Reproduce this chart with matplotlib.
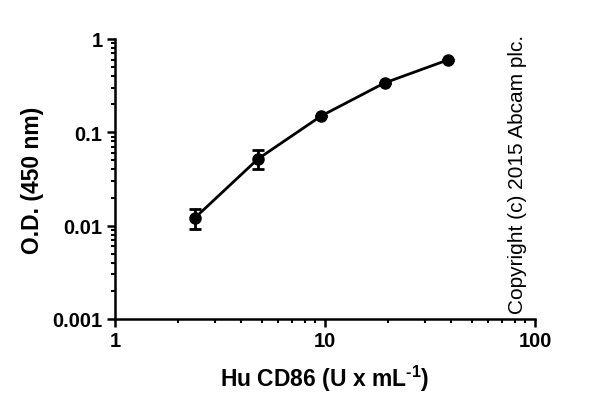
import numpy as np
import matplotlib
matplotlib.use("Agg")
import matplotlib.pyplot as plt
from matplotlib.ticker import LogLocator, NullFormatter

# Standard curve data
conc = [2.4, 4.8, 9.6, 19.2, 38.4]
od = [0.0121, 0.052, 0.150, 0.338, 0.596]
od_err = [0.0029, 0.012, 0.0, 0.0, 0.0]

xticks = [1, 10, 100]
xtick_labels = ["1", "10", "100"]
yticks = [0.001, 0.01, 0.1, 1]
ytick_labels = ["0.001", "0.01", "0.1", "1"]

plt.rcParams['font.family'] = ['Liberation Sans', 'DejaVu Sans']
plt.rcParams['mathtext.fontset'] = 'custom'
plt.rcParams['mathtext.rm'] = 'Liberation Sans:bold'
plt.rcParams['mathtext.default'] = 'rm'

fig = plt.figure(figsize=(6, 4.14), dpi=100)
ax = fig.add_axes([0.1917, 0.2271, 0.7, 0.6763])

ax.errorbar(conc, od, yerr=od_err, color='black', lw=2, marker='o', ms=8,
            capsize=4, capthick=2, elinewidth=2)

ax.set_xscale('log')
ax.set_yscale('log')
ax.set_xlim(1, 100)
ax.set_ylim(0.001, 1)

ax.set_xticks(xticks, xtick_labels, fontsize=14.5, fontweight='bold')
ax.set_yticks(yticks, ytick_labels, fontsize=14.5, fontweight='bold')
ax.xaxis.set_minor_locator(LogLocator(base=10, subs=np.arange(2, 10)))
ax.yaxis.set_minor_locator(LogLocator(base=10, subs=np.arange(2, 10)))
ax.xaxis.set_minor_formatter(NullFormatter())
ax.yaxis.set_minor_formatter(NullFormatter())

for side in ['top', 'right']:
    ax.spines[side].set_visible(False)
for side in ['left', 'bottom']:
    ax.spines[side].set_linewidth(1.8)

ax.tick_params(which='major', length=6, width=1.8, pad=3)
ax.tick_params(which='minor', length=3, width=1.5)

ax.set_xlabel(r'Hu CD86 (U x mL$^{\text{-1}}$)', fontsize=16.5, fontweight='bold', labelpad=9)
ax.set_ylabel('O.D. (450 nm)', fontsize=16.5, fontweight='bold', labelpad=6)

fig.text(0.863, 0.5797, 'Copyright (c) 2015 Abcam plc.', rotation=90,
         fontsize=15, ha='center', va='center')

fig.savefig('out.png', dpi=100)
